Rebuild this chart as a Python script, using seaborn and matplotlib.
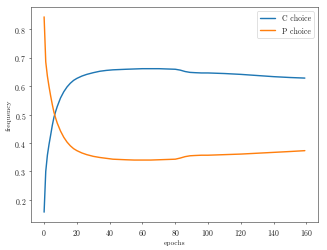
import matplotlib
matplotlib.use("Agg")
import matplotlib.pyplot as plt
import seaborn as sns
import pandas as pd

epochs = [0, 1, 2, 3, 4, 5, 6, 7, 8, 10, 12, 14, 16, 18, 20, 23, 26, 30, 34, 38,
          42, 46, 50, 55, 60, 65, 70, 75, 80, 83, 86, 89, 92, 96, 100, 110, 120,
          130, 140, 150, 159]
c_choice = [0.157, 0.30, 0.357, 0.395, 0.428, 0.462, 0.49, 0.51, 0.528, 0.558,
            0.58, 0.597, 0.61, 0.62, 0.627, 0.635, 0.641, 0.647, 0.652, 0.655,
            0.657, 0.658, 0.659, 0.660, 0.661, 0.661, 0.661, 0.660, 0.659, 0.656,
            0.651, 0.648, 0.647, 0.646, 0.646, 0.644, 0.641, 0.637, 0.633, 0.630,
            0.628]
p_choice = [0.843, 0.685, 0.635, 0.598, 0.565, 0.535, 0.508, 0.488, 0.47, 0.442,
            0.42, 0.403, 0.39, 0.38, 0.373, 0.365, 0.359, 0.353, 0.349, 0.346,
            0.343, 0.342, 0.341, 0.340, 0.340, 0.340, 0.341, 0.342, 0.343, 0.347,
            0.352, 0.355, 0.356, 0.357, 0.357, 0.359, 0.361, 0.364, 0.367, 0.370,
            0.373]

sns.set_style("ticks")
plt.rcParams.update({
    "font.family": ["cmr10", "DejaVu Serif"],
    "axes.formatter.use_mathtext": True,
    "font.size": 11,
    "axes.edgecolor": "0.2",
})

df = pd.DataFrame({"epochs": epochs, "C choice": c_choice, "P choice": p_choice})
long_df = df.melt(id_vars="epochs", var_name="series", value_name="frequency")

fig, ax = plt.subplots(figsize=(6.4, 4.91), dpi=51.1)
sns.lineplot(data=long_df, x="epochs", y="frequency", hue="series",
             palette=["#1f77b4", "#ff7f0e"], linewidth=2, ax=ax)
ax.set_xticks([0, 20, 40, 60, 80, 100, 120, 140, 160])
ax.set_yticks([0.2, 0.3, 0.4, 0.5, 0.6, 0.7, 0.8])
ax.tick_params(labelsize=11)
ax.set_xlabel("epochs", fontsize=10.5)
ax.set_ylabel("frequency", fontsize=10.5)
ax.legend(loc="upper right", title=None, fontsize=11)
fig.subplots_adjust(left=0.095, right=0.972, bottom=0.112, top=0.968)
fig.savefig("out.png")
plt.close(fig)
